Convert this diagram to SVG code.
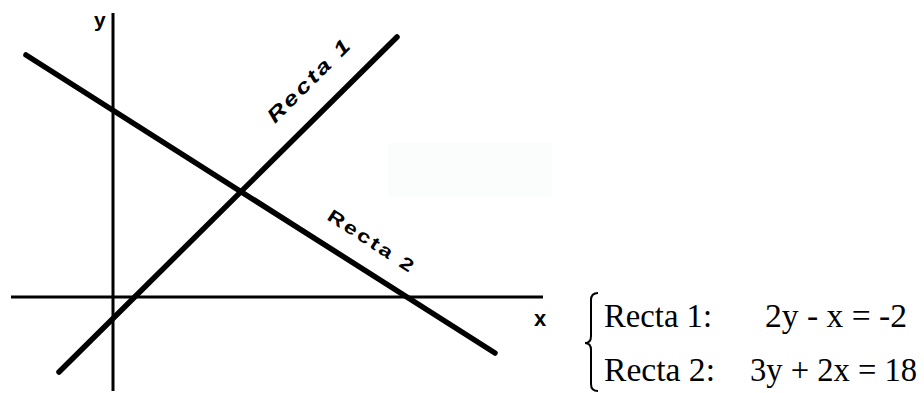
<svg xmlns="http://www.w3.org/2000/svg" width="924" height="393" viewBox="0 0 924 393">
<style>
.axis{stroke:#000;stroke-width:3;fill:none;stroke-linecap:butt}
.line{stroke:#000;stroke-width:5.5;fill:none;stroke-linecap:round}
.lbl{font-family:"Liberation Sans",Arial,sans-serif;font-weight:bold;fill:#000}
.eq{font-family:"Liberation Serif","Times New Roman",serif;font-size:34px;fill:#000}
</style>
<rect width="924" height="393" fill="#fff"/>
<rect x="388" y="143" width="164" height="55" fill="#fbfcfc"/>
<g id="axes">
<line class="axis" x1="11" y1="297" x2="543" y2="297"/>
<line class="axis" x1="113" y1="13" x2="113" y2="391"/>
<text id="label-y" class="lbl" x="94" y="27" font-size="21">y</text>
<text id="label-x" class="lbl" x="534" y="326" font-size="22">x</text>
</g>
<g id="connectors">
<line id="recta1" class="line" x1="59" y1="372" x2="397" y2="37"/>
<line id="recta2" class="line" x1="26" y1="55" x2="495" y2="353"/>
</g>
<g id="recta1-label">
<text class="lbl" font-style="italic" font-size="20" letter-spacing="2" transform="translate(275,124) rotate(-45) scale(1.3,1)">Recta 1</text>
</g>
<g id="recta2-label">
<text class="lbl" font-size="18" letter-spacing="2" transform="translate(326,219) rotate(33) scale(1.3,1)">Recta 2</text>
</g>
<g id="system">
<path d="M598,293 Q591,293 591,300 L591,336 Q591,343 585,343 Q591,343 591,350 L591,384 Q591,391 598,391" fill="none" stroke="#000" stroke-width="2"/>
<text class="eq" x="604" y="327" textLength="108" lengthAdjust="spacingAndGlyphs">Recta 1:</text>
<text class="eq" x="765" y="327" textLength="142" lengthAdjust="spacingAndGlyphs">2y - x = -2</text>
<text class="eq" x="604" y="381" textLength="111" lengthAdjust="spacingAndGlyphs">Recta 2:</text>
<text class="eq" x="750" y="381" textLength="167" lengthAdjust="spacingAndGlyphs">3y + 2x = 18</text>
</g>
</svg>
